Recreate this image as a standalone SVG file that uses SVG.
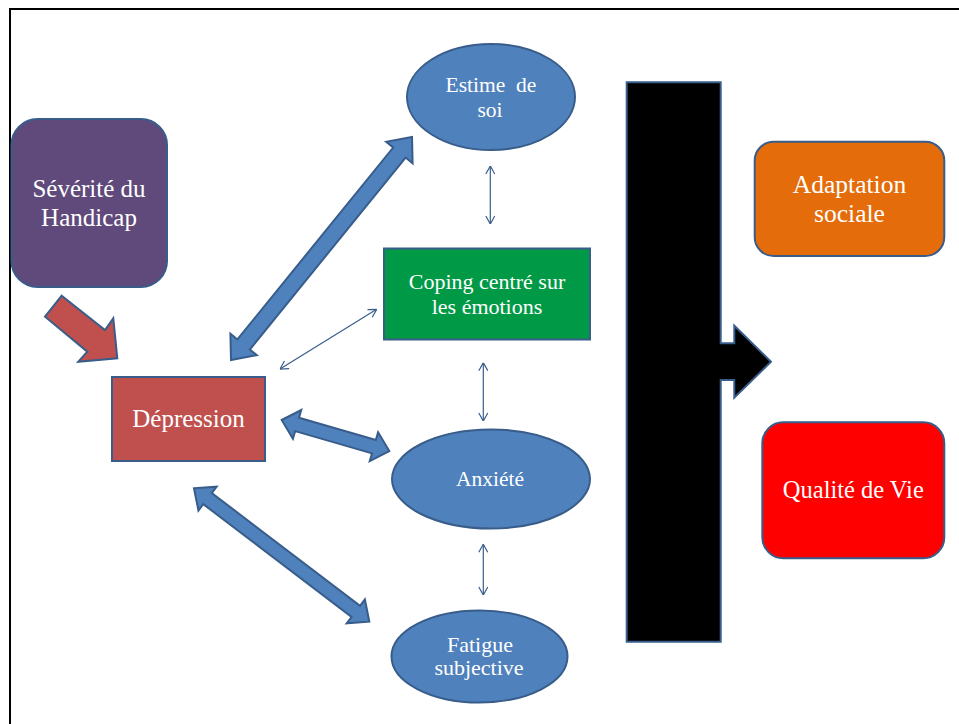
<svg xmlns="http://www.w3.org/2000/svg" width="959" height="724" viewBox="0 0 959 724">
<style>
.lbl{font-family:"Liberation Serif","Times New Roman",serif;fill:#ffffff;text-anchor:middle}
.shape{stroke:#385d8a;stroke-width:2}
.blue{fill:#4f81bd}
.thin{fill:none;stroke:#385d8a;stroke-width:1.2;marker-start:url(#chev);marker-end:url(#chev)}
</style>
<defs>
<marker id="chev" viewBox="0 0 10 10" markerUnits="userSpaceOnUse" markerWidth="10" markerHeight="10" refX="10" refY="5" orient="auto-start-reverse">
<path d="M2,0.5 L10,5 L2,9.5" fill="none" stroke="#385d8a" stroke-width="1.2"/>
</marker>
</defs>
<rect x="10" y="9" width="970" height="730" fill="none" stroke="#000" stroke-width="2"/>

<g id="connectors">
<polygon class="shape" fill="#c0504d" points="61.7,295.7 105,330 113.3,318.3 117.3,358.3 78.3,361.7 87.3,351.7 45,316.7"/>
<g transform="translate(231,360) rotate(-50.93)">
<path class="shape blue" d="M0,0 L20,-17 L20,-8 L267.2,-8 L267.2,-17 L287.2,0 L267.2,17 L267.2,8 L20,8 L20,17 Z"/>
</g>
<g transform="translate(281.7,420) rotate(16.1)">
<path class="shape blue" d="M0,0 L16,-15 L16,-7 L96,-7 L96,-15 L112,0 L96,15 L96,7 L16,7 L16,15 Z"/>
</g>
<g transform="translate(194,488.3) rotate(37.27)">
<path class="shape blue" d="M0,0 L17,-15 L17,-7 L203.3,-7 L203.3,-15 L220.3,0 L203.3,15 L203.3,7 L17,7 L17,15 Z"/>
</g>
<line class="thin" x1="280" y1="369" x2="376.7" y2="309.3"/>
<line class="thin" x1="490.3" y1="166" x2="490.3" y2="224"/>
<line class="thin" x1="483.3" y1="362.7" x2="483.3" y2="421"/>
<line class="thin" x1="483.3" y1="544.3" x2="483.3" y2="595"/>
<path class="shape" fill="#000000" d="M626.7,82.3 H720.7 V343.3 H734.3 V325.7 L771,361.7 L734.3,397.7 V380 H720.7 V641.7 H626.7 Z"/>
</g>

<g id="severite">
<rect class="shape" x="11.5" y="119" width="155.5" height="168" rx="26" fill="#5f4a7b"/>
<text class="lbl" x="89" y="197" font-size="25">Sévérité du</text>
<text class="lbl" x="89" y="226" font-size="25">Handicap</text>
</g>

<g id="depression">
<rect class="shape" x="112" y="377" width="153" height="84" fill="#c0504d"/>
<text class="lbl" x="188.5" y="427" font-size="25">Dépression</text>
</g>

<g id="estime">
<ellipse class="shape blue" cx="491" cy="97" rx="84" ry="53"/>
<text class="lbl" x="491" y="92" font-size="21.5" xml:space="preserve">Estime  de</text>
<text class="lbl" x="490" y="117" font-size="21.5">soi</text>
</g>

<g id="coping">
<rect class="shape" x="384" y="248.5" width="206" height="91" fill="#009a46"/>
<text class="lbl" x="487" y="288.5" font-size="22">Coping centré sur</text>
<text class="lbl" x="487" y="313.5" font-size="22">les émotions</text>
</g>

<g id="anxiete">
<ellipse class="shape blue" cx="491" cy="479" rx="99" ry="49.5"/>
<text class="lbl" x="490" y="486" font-size="21.5">Anxiété</text>
</g>

<g id="fatigue">
<ellipse class="shape blue" cx="479.5" cy="656.5" rx="88" ry="46"/>
<text class="lbl" x="480" y="652" font-size="22">Fatigue</text>
<text class="lbl" x="479" y="675" font-size="22">subjective</text>
</g>

<g id="adaptation">
<rect class="shape" x="754.7" y="141.7" width="189.6" height="114.3" rx="19" fill="#e46c0a"/>
<text class="lbl" x="849.5" y="193.3" font-size="25.5">Adaptation</text>
<text class="lbl" x="849.5" y="222.3" font-size="25.5">sociale</text>
</g>

<g id="qualite">
<rect class="shape" x="762.3" y="422.3" width="182" height="136" rx="21" fill="#ff0000"/>
<text class="lbl" x="853.3" y="498.3" font-size="24.5">Qualité de Vie</text>
</g>
</svg>
